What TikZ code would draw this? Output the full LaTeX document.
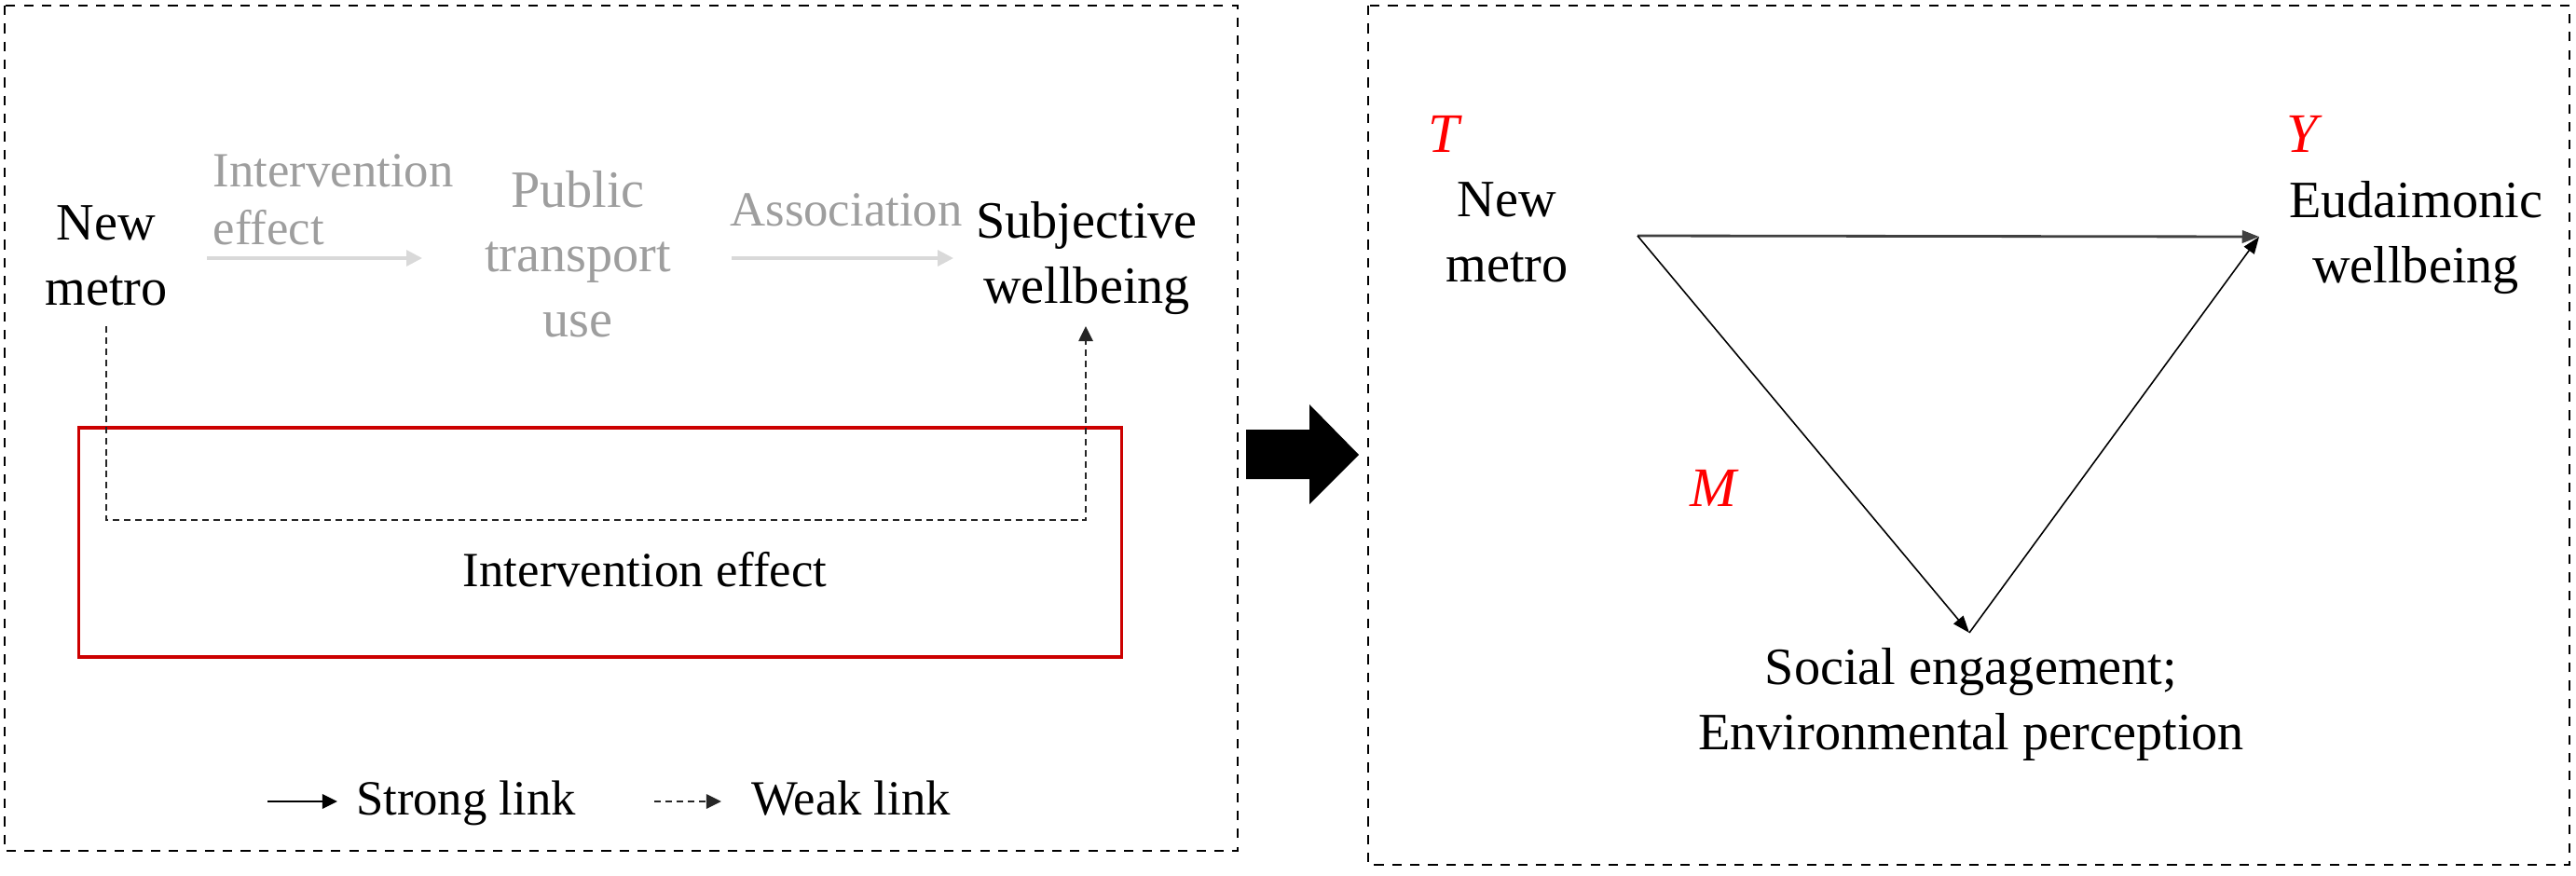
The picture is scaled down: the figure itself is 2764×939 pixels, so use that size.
\documentclass[tikz,border=0pt]{standalone}
\usepackage{fontspec}
\setmainfont{Liberation Serif}
\usetikzlibrary{arrows.meta}
\definecolor{boxred}{RGB}{204,0,0}
\definecolor{lblred}{RGB}{255,0,0}
\newcommand\mlines[2][c]{\begin{tabular}[t]{@{}#1@{}}#2\end{tabular}}
\begin{document}
\begin{tikzpicture}[x=0.01cm,y=-0.01cm,
  txt/.style={inner sep=0pt, anchor=base, font=\fontsize{16}{20}\selectfont},
  smalltxt/.style={inner sep=0pt, anchor=base, font=\fontsize{15}{18}\selectfont},
  faint/.style={inner sep=0pt, anchor=base, text=black!38, font=\fontsize{15}{17.9}\selectfont},
  letter/.style={inner sep=0pt, anchor=base west, text=lblred, font=\fontsize{17}{20}\selectfont\itshape},
  frame/.style={draw=black, line width=0.7pt, dash pattern=on 2.9pt off 2.6pt},
  faintarrow/.style={draw=black!15, line width=0.9pt, -{Triangle[length=4.8pt,width=4.8pt]}},
  weak/.style={draw=black!85, line width=0.5pt, dash pattern=on 2pt off 1.4pt, -{Triangle[length=4.6pt,width=4.4pt]}},
  strong/.style={draw=black, line width=0.6pt, -{Triangle[length=4.6pt,width=4.4pt]}},
  tri/.style={draw=black, line width=0.45pt, -{Triangle[length=5.2pt,width=3.8pt]}},
]
\useasboundingbox (0,0) rectangle (2764,939);

% frames
\draw[frame] (5,6) rectangle (1328,913);
\draw[frame] (1468,6) rectangle (2757,928);

% left panel
\node[txt] (nm1) at (114,257) {\mlines{New\\metro}};
\node[faint, anchor=base west] (ie1) at (228,200) {\mlines[l]{Intervention\\effect}};
\node[faint, font=\fontsize{16}{19.9}\selectfont] (ptu) at (620,222) {\mlines{Public\\transport\\use}};
\node[faint] (assoc) at (908,242) {Association};
\node[txt] (sw) at (1166,255) {\mlines{Subjective\\wellbeing}};

\coordinate (a1s) at (222,277);
\coordinate (a1e) at (453,277);
\coordinate (a2s) at (785,277);
\coordinate (a2e) at (1023,277);
\draw[faintarrow] (a1s) -- (a1e);
\draw[faintarrow] (a2s) -- (a2e);

\node[draw=boxred, line width=1pt, inner sep=0pt, minimum width=11.18cm, minimum height=2.46cm] (ibox) at (644,582) {};
\node[smalltxt] (ie2) at (692,629) {Intervention effect};

\coordinate (d0) at (114,350);
\coordinate (d0b) at (114,558);
\coordinate (d1b) at (1165,558);
\coordinate (d1) at (1165,350);
\draw[weak] (d0) -- (d0b) -- (d1b) -- (d1);

% legend
\coordinate (ls0) at (287,860);
\coordinate (ls1) at (362,860);
\draw[strong] (ls0) -- (ls1);
\node[smalltxt] (lsl) at (500,874) {Strong link};
\coordinate (lw0) at (702,860);
\coordinate (lw1) at (774,860);
\draw[weak] (lw0) -- (lw1);
\node[smalltxt] (lwl) at (913,874) {Weak link};

% big arrow
\fill[black] (1337,461) -- (1405,461) -- (1405,434) -- (1458,488) -- (1405,541) -- (1405,514) -- (1337,514) -- cycle;

% right panel
\node[letter] (T) at (1532,163) {T};
\node[txt] (nm2) at (1617,232) {\mlines{New\\metro}};
\node[letter] (Y) at (2453,163) {Y};
\node[txt] (ew) at (2592,233) {\mlines{Eudaimonic\\wellbeing}};
\node[letter] (M) at (1813,543) {M};
\node[txt] (se) at (2115,734) {\mlines{Social engagement;\\Environmental perception}};

\coordinate (vt) at (1757,253);
\coordinate (vy) at (2424,254);
\coordinate (vm) at (2113,679);
\draw[tri, draw=black!75, line width=0.8pt] (vt) -- (vy);
\draw[tri] (vt) -- (vm);
\draw[tri] (vm) -- (vy);
\end{tikzpicture}
\end{document}
